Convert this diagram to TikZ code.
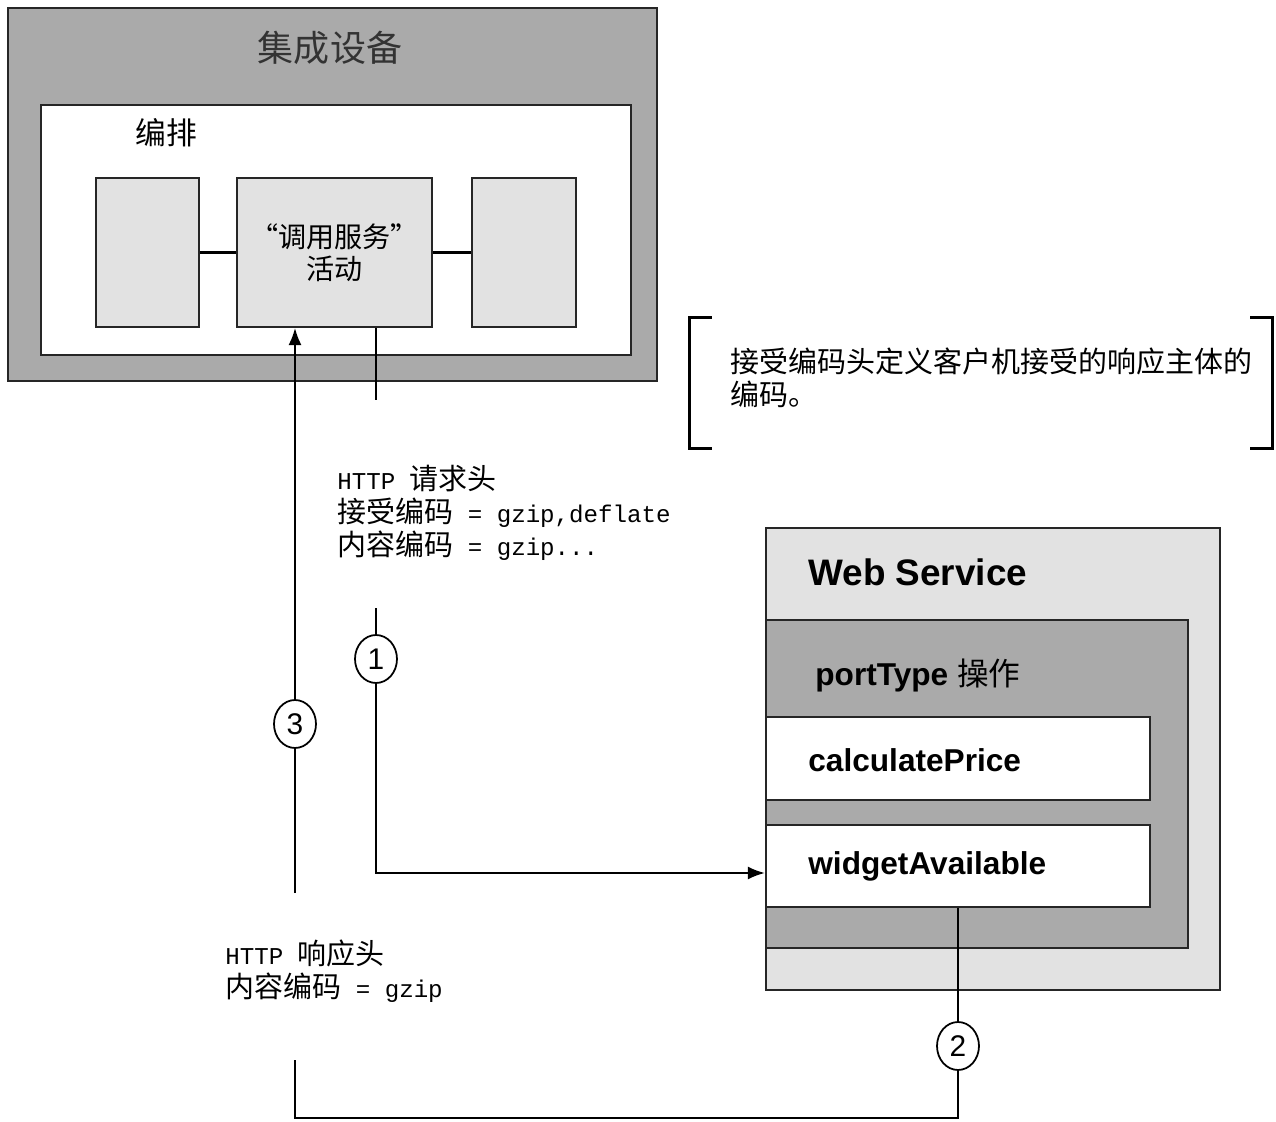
\documentclass[tikz,border=0pt]{standalone}
\usepackage{fontspec}
\setmainfont{Liberation Sans}
\newfontfamily\cjk{Noto Sans CJK SC}
\newfontfamily\monofnt{Liberation Mono}[Scale=0.833]
\usepackage{xcolor}
\definecolor{fillDark}{RGB}{170, 170, 170}
\definecolor{fillLight}{RGB}{226, 226, 226}
\usetikzlibrary{arrows.meta, shapes.geometric, positioning}

\begin{document}
\begin{tikzpicture}[x=0.02cm, y=-0.02cm,
	box/.style={draw=black!85, line width=1.4pt, inner sep=0pt},
	sm/.style={box, fill=fillLight, line width=1.2pt},
	num/.style={ellipse, draw, fill=white, line width=1pt, minimum width=0.84cm,
		minimum height=0.96cm, inner sep=0pt, font=\fontsize{17}{17}\selectfont},
	fl/.style={line width=1pt},
	ar/.style={fl, -{Latex[length=3.4mm, width=2.6mm]}},
	cn/.style={font=\cjk\fontsize{16.5}{18.8}\selectfont, align=left, inner sep=0pt},
	bl/.style={font=\bfseries\fontsize{18}{18}\selectfont, inner sep=0pt}]
	\useasboundingbox (0,0) rectangle (1276,1122);
	\node[box, fill=fillDark, minimum width=12.98cm, minimum height=7.46cm] (dev) at (332.5,194.5) {};
	\node[font=\cjk\fontsize{20.5}{20.5}\selectfont, text=black!80] (devT) at (330,48) {集成设备};
	\node[box, fill=white, minimum width=11.8cm, minimum height=5cm] (orch) at (336,230) {};
	\node[cn, anchor=west, font=\cjk\fontsize{17.5}{17.5}\selectfont] (orchT) at (135,133) {编排};
	\node[sm, minimum width=2.06cm, minimum height=2.98cm] (pre) at (147.5,252.5) {};
	\node[sm, minimum width=3.9cm, minimum height=2.98cm, align=center,
		font=\cjk\fontsize{16}{18.5}\selectfont] (inv) at (334.5,252.5) {“调用服务”\\活动};
	\node[sm, minimum width=2.08cm, minimum height=2.98cm] (post) at (524,252.5) {};
	\draw[fl, line width=1.6pt] (pre) -- (inv);
	\draw[fl, line width=1.6pt] (inv) -- (post);
	\node[box, fill=fillLight, minimum width=9.08cm, minimum height=9.24cm] (ws) at (993,759) {};
	\node[bl, anchor=west, font=\bfseries\fontsize{21}{21}\selectfont] (wsT) at (808,572) {Web Service};
	\node[box, fill=fillDark, minimum width=8.44cm, minimum height=6.56cm] (pt) at (977,784) {};
	\node[bl, anchor=west] (ptT) at (815,675) {portType {\cjk\mdseries 操作}};
	\node[box, fill=white, minimum width=7.68cm, minimum height=1.66cm] (calc) at (958,758.5) {};
	\node[bl, anchor=west] (calcT) at (808,760) {calculatePrice};
	\node[box, fill=white, minimum width=7.68cm, minimum height=1.64cm] (wid) at (958,866) {};
	\node[bl, anchor=west] (widT) at (808,866) {widgetAvailable};
	\node[minimum width=11.64cm, minimum height=2.6cm, inner sep=0pt] (note) at (981,383) {};
	\node[cn, anchor=west] (noteT) at (730,378) {接受编码头定义客户机接受的响应主体的\\编码。};
	\draw[line width=1.4pt] ([xshift=0.44cm]note.north west) -- (note.north west)
		-- (note.south west) -- ([xshift=0.44cm]note.south west);
	\draw[line width=1.4pt] ([xshift=-0.44cm]note.north east) -- (note.north east)
		-- (note.south east) -- ([xshift=-0.44cm]note.south east);
	\node[cn, anchor=west] (req) at (337,513) {{\monofnt HTTP }请求头\\接受编码{\monofnt\ = gzip,deflate}\\内容编码{\monofnt\ = gzip...}};
	\node[cn, anchor=west] (resp) at (225,971) {{\monofnt HTTP }响应头\\内容编码{\monofnt\ = gzip}};
	\node[num] (n1) at (376,659) {1};
	\node[num] (n3) at (295,724) {3};
	\node[num] (n2) at (958,1046) {2};
	\coordinate (a1) at (376,400);
	\coordinate (b1) at (376,608);
	\coordinate (a3) at (295,893);
	\coordinate (b3) at (295,1060);
	\coordinate (k3) at (295,1118);
	\draw[fl] (inv.south -| a1) -- (a1);
	\draw[fl] (b1) -- (n1);
	\draw[ar] (n1) |- ([yshift=-0.14cm]wid.west);
	\draw[fl] (wid.south -| n2) -- (n2);
	\draw[fl] (n2) |- (k3) -- (b3);
	\draw[fl] (a3) -- (n3);
	\draw[ar] (n3) -- (inv.south -| n3);
\end{tikzpicture}
\end{document}
